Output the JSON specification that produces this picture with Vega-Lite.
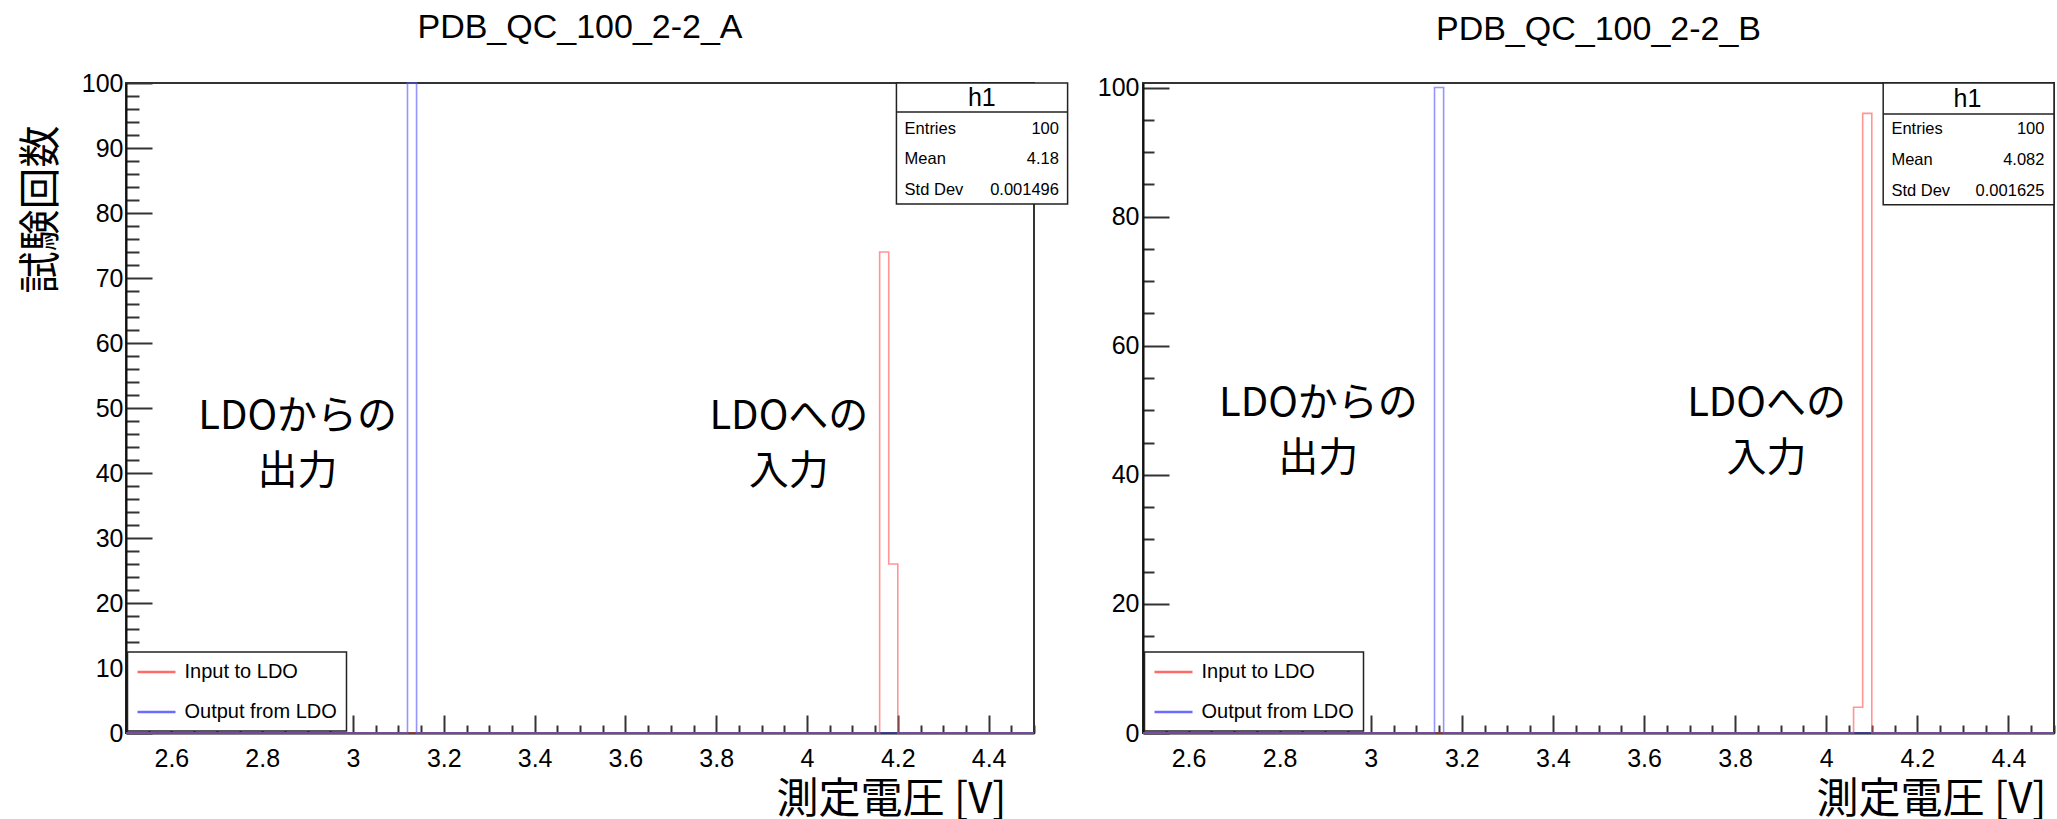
{
  "$schema": "https://vega.github.io/schema/vega-lite/v6.json",
  "padding": {"left": 18, "top": 10, "right": 0, "bottom": 0},
  "background": "white",
  "datasets": {
    "histA": [
      {"s": "Input to LDO", "v": 2.5, "n": 0},
      {"s": "Input to LDO", "v": 4.16, "n": 74},
      {"s": "Input to LDO", "v": 4.18, "n": 26},
      {"s": "Input to LDO", "v": 4.2, "n": 0},
      {"s": "Input to LDO", "v": 4.5, "n": 0},
      {"s": "Output from LDO", "v": 2.5, "n": 0},
      {"s": "Output from LDO", "v": 3.12, "n": 100},
      {"s": "Output from LDO", "v": 3.14, "n": 0},
      {"s": "Output from LDO", "v": 4.5, "n": 0}
    ],
    "histB": [
      {"s": "Input to LDO", "v": 2.5, "n": 0},
      {"s": "Input to LDO", "v": 4.06, "n": 4},
      {"s": "Input to LDO", "v": 4.08, "n": 96},
      {"s": "Input to LDO", "v": 4.1, "n": 0},
      {"s": "Input to LDO", "v": 4.5, "n": 0},
      {"s": "Output from LDO", "v": 2.5, "n": 0},
      {"s": "Output from LDO", "v": 3.14, "n": 100},
      {"s": "Output from LDO", "v": 3.16, "n": 0},
      {"s": "Output from LDO", "v": 4.5, "n": 0}
    ],
    "notes": [
      {"id": "out", "t": "LDOからの\n出力"},
      {"id": "in", "t": "LDOへの\n入力"}
    ],
    "statsA": [{"h": "h1", "k": "Entries\nMean\nStd Dev", "val": "100\n4.18\n0.001496"}],
    "statsB": [{"h": "h1", "k": "Entries\nMean\nStd Dev", "val": "100\n4.082\n0.001625"}]
  },
  "hconcat": [
    {
      "width": 908,
      "height": 650,
      "title": {"text": "PDB_QC_100_2-2_A", "offset": 26},
      "layer": [
        {
          "data": {"name": "histA"},
          "mark": {"type": "line", "interpolate": "step-after", "strokeWidth": 1.6, "opacity": 0.65, "clip": false},
          "encoding": {
            "x": {
              "field": "v", "type": "quantitative",
              "scale": {"domain": [2.5, 4.5], "nice": false, "zero": false},
              "axis": {
                "values": [2.5,2.55,2.6,2.65,2.7,2.75,2.8,2.85,2.9,2.95,3,3.05,3.1,3.15,3.2,3.25,3.3,3.35,3.4,3.45,3.5,3.55,3.6,3.65,3.7,3.75,3.8,3.85,3.9,3.95,4,4.05,4.1,4.15,4.2,4.25,4.3,4.35,4.4,4.45,4.5],
                "tickCount": 500,
                "tickSize": {"expr": "datum.value * 5 % 1 < 0.01 || datum.value * 5 % 1 > 0.99 ? -18 : -8"},
                "labelFontSize": {"expr": "datum.value * 5 % 1 < 0.01 || datum.value * 5 % 1 > 0.99 ? 25 : 0"},
                "labelExpr": "datum.value * 5 % 1 < 0.01 || datum.value * 5 % 1 > 0.99 ? format(datum.value, '~g') : ''",
                "labelPadding": 31,
                "labelOverlap": false,
                "title": "測定電圧 [V]",
                "titleX": 880, "titleY": 66, "titleAlign": "right", "titleBaseline": "middle", "titleAnchor": "end"
              }
            },
            "y": {
              "field": "n", "type": "quantitative",
              "scale": {"domain": [0, 100], "nice": false, "zero": false},
              "axis": {
                "values": [0,2,4,6,8,10,12,14,16,18,20,22,24,26,28,30,32,34,36,38,40,42,44,46,48,50,52,54,56,58,60,62,64,66,68,70,72,74,76,78,80,82,84,86,88,90,92,94,96,98,100],
                "tickCount": 500,
                "tickSize": {"expr": "datum.value % 10 === 0 ? -26 : -13"},
                "labelFontSize": {"expr": "datum.value % 10 === 0 ? 25 : 0"},
                "labelExpr": "datum.value % 10 === 0 ? format(datum.value, 'd') : ''",
                "labelPadding": 29,
                "labelOverlap": false,
                "title": "試験回数",
                "titleX": -85, "titleY": 42, "titleAngle": -90, "titleAlign": "right", "titleBaseline": "middle", "titleAnchor": "end"
              }
            },
            "color": {
              "field": "s", "type": "nominal",
              "scale": {"domain": ["Input to LDO", "Output from LDO"], "range": ["#ff5c5c", "#5c5cff"]},
              "legend": {
                "orient": "none", "legendX": 1.5, "legendY": 569, "title": null,
                "symbolType": "M-2,0H2", "symbolSize": 361, "symbolStrokeWidth": 2.5, "symbolOffset": 9, "symbolOpacity": 0.9,
                "labelFontSize": 20, "labelFont": "Liberation Sans", "labelColor": "black", "labelOffset": 17,
                "padding": 9, "rowPadding": 19, "fillColor": "white", "strokeColor": "#222"
              }
            }
          }
        },
        {
          "data": {"name": "notes"},
          "transform": [{"filter": {"field": "id", "equal": "out"}}],
          "mark": {"type": "text", "lineBreak": "\n", "font": "Noto Sans CJK JP", "fontSize": 40, "lineHeight": 55, "align": "center", "baseline": "middle", "color": "black"},
          "encoding": {"x": {"datum": 2.878}, "y": {"datum": 48.6}, "text": {"field": "t"}}
        },
        {
          "data": {"name": "notes"},
          "transform": [{"filter": {"field": "id", "equal": "in"}}],
          "mark": {"type": "text", "lineBreak": "\n", "font": "Noto Sans CJK JP", "fontSize": 40, "lineHeight": 55, "align": "center", "baseline": "middle", "color": "black"},
          "encoding": {"x": {"datum": 3.96}, "y": {"datum": 48.6}, "text": {"field": "t"}}
        },
        {
          "data": {"name": "statsA"},
          "mark": {"type": "rect", "fill": "white", "stroke": "#222", "strokeWidth": 1.5, "clip": false},
          "encoding": {"x": {"datum": 4.197}, "x2": {"datum": 4.574}, "y": {"datum": 100}, "y2": {"datum": 81.38}}
        },
        {
          "data": {"name": "statsA"},
          "mark": {"type": "rule", "stroke": "#222", "strokeWidth": 1.5, "clip": false},
          "encoding": {"x": {"datum": 4.197}, "x2": {"datum": 4.574}, "y": {"datum": 95.54}}
        },
        {
          "data": {"name": "statsA"},
          "mark": {"type": "text", "font": "Liberation Sans", "fontSize": 25, "align": "center", "baseline": "middle", "color": "black"},
          "encoding": {"x": {"datum": 4.385}, "y": {"datum": 97.7}, "text": {"field": "h"}}
        },
        {
          "data": {"name": "statsA"},
          "mark": {"type": "text", "lineBreak": "\n", "font": "Liberation Sans", "fontSize": 16.5, "lineHeight": 30.7, "align": "left", "baseline": "middle", "color": "black"},
          "encoding": {"x": {"datum": 4.215}, "y": {"datum": 93.0}, "text": {"field": "k"}}
        },
        {
          "data": {"name": "statsA"},
          "mark": {"type": "text", "lineBreak": "\n", "font": "Liberation Sans", "fontSize": 16.5, "lineHeight": 30.7, "align": "right", "baseline": "middle", "color": "black"},
          "encoding": {"x": {"datum": 4.555}, "y": {"datum": 93.0}, "text": {"field": "val"}}
        }
      ]
    },
    {
      "width": 911,
      "height": 650,
      "title": {"text": "PDB_QC_100_2-2_B", "offset": 29},
      "layer": [
        {
          "data": {"name": "histB"},
          "mark": {"type": "line", "interpolate": "step-after", "strokeWidth": 1.6, "opacity": 0.65, "clip": false},
          "encoding": {
            "x": {
              "field": "v", "type": "quantitative",
              "scale": {"domain": [2.5, 4.5], "nice": false, "zero": false},
              "axis": {
                "values": [2.5,2.55,2.6,2.65,2.7,2.75,2.8,2.85,2.9,2.95,3,3.05,3.1,3.15,3.2,3.25,3.3,3.35,3.4,3.45,3.5,3.55,3.6,3.65,3.7,3.75,3.8,3.85,3.9,3.95,4,4.05,4.1,4.15,4.2,4.25,4.3,4.35,4.4,4.45,4.5],
                "tickCount": 500,
                "tickSize": {"expr": "datum.value * 5 % 1 < 0.01 || datum.value * 5 % 1 > 0.99 ? -18 : -8"},
                "labelFontSize": {"expr": "datum.value * 5 % 1 < 0.01 || datum.value * 5 % 1 > 0.99 ? 25 : 0"},
                "labelExpr": "datum.value * 5 % 1 < 0.01 || datum.value * 5 % 1 > 0.99 ? format(datum.value, '~g') : ''",
                "labelPadding": 31,
                "labelOverlap": false,
                "title": "測定電圧 [V]",
                "titleX": 903, "titleY": 66, "titleAlign": "right", "titleBaseline": "middle", "titleAnchor": "end"
              }
            },
            "y": {
              "field": "n", "type": "quantitative",
              "scale": {"domain": [0, 100.7], "nice": false, "zero": false},
              "axis": {
                "values": [0,5,10,15,20,25,30,35,40,45,50,55,60,65,70,75,80,85,90,95,100],
                "tickCount": 500,
                "tickSize": {"expr": "datum.value % 20 === 0 ? -26 : -11"},
                "labelFontSize": {"expr": "datum.value % 20 === 0 ? 25 : 0"},
                "labelExpr": "datum.value % 20 === 0 ? format(datum.value, 'd') : ''",
                "labelPadding": 30,
                "labelOverlap": false,
                "title": null
              }
            },
            "color": {
              "field": "s", "type": "nominal",
              "scale": {"domain": ["Input to LDO", "Output from LDO"], "range": ["#ff5c5c", "#5c5cff"]},
              "legend": {
                "orient": "none", "legendX": 1.5, "legendY": 569, "title": null,
                "symbolType": "M-2,0H2", "symbolSize": 361, "symbolStrokeWidth": 2.5, "symbolOffset": 9, "symbolOpacity": 0.9,
                "labelFontSize": 20, "labelFont": "Liberation Sans", "labelColor": "black", "labelOffset": 17,
                "padding": 9, "rowPadding": 19, "fillColor": "white", "strokeColor": "#222"
              }
            }
          }
        },
        {
          "data": {"name": "notes"},
          "transform": [{"filter": {"field": "id", "equal": "out"}}],
          "mark": {"type": "text", "lineBreak": "\n", "font": "Noto Sans CJK JP", "fontSize": 40, "lineHeight": 55, "align": "center", "baseline": "middle", "color": "black"},
          "encoding": {"x": {"datum": 2.885}, "y": {"datum": 50.9}, "text": {"field": "t"}}
        },
        {
          "data": {"name": "notes"},
          "transform": [{"filter": {"field": "id", "equal": "in"}}],
          "mark": {"type": "text", "lineBreak": "\n", "font": "Noto Sans CJK JP", "fontSize": 40, "lineHeight": 55, "align": "center", "baseline": "middle", "color": "black"},
          "encoding": {"x": {"datum": 3.869}, "y": {"datum": 50.9}, "text": {"field": "t"}}
        },
        {
          "data": {"name": "statsB"},
          "mark": {"type": "rect", "fill": "white", "stroke": "#222", "strokeWidth": 1.5, "clip": false},
          "encoding": {"x": {"datum": 4.125}, "x2": {"datum": 4.5}, "y": {"datum": 100.7}, "y2": {"datum": 81.82}}
        },
        {
          "data": {"name": "statsB"},
          "mark": {"type": "rule", "stroke": "#222", "strokeWidth": 1.5, "clip": false},
          "encoding": {"x": {"datum": 4.125}, "x2": {"datum": 4.5}, "y": {"datum": 95.91}}
        },
        {
          "data": {"name": "statsB"},
          "mark": {"type": "text", "font": "Liberation Sans", "fontSize": 25, "align": "center", "baseline": "middle", "color": "black"},
          "encoding": {"x": {"datum": 4.31}, "y": {"datum": 98.2}, "text": {"field": "h"}}
        },
        {
          "data": {"name": "statsB"},
          "mark": {"type": "text", "lineBreak": "\n", "font": "Liberation Sans", "fontSize": 16.5, "lineHeight": 30.7, "align": "left", "baseline": "middle", "color": "black"},
          "encoding": {"x": {"datum": 4.143}, "y": {"datum": 93.5}, "text": {"field": "k"}}
        },
        {
          "data": {"name": "statsB"},
          "mark": {"type": "text", "lineBreak": "\n", "font": "Liberation Sans", "fontSize": 16.5, "lineHeight": 30.7, "align": "right", "baseline": "middle", "color": "black"},
          "encoding": {"x": {"datum": 4.479}, "y": {"datum": 93.5}, "text": {"field": "val"}}
        }
      ]
    }
  ],
  "spacing": 109,
  "bounds": "flush",
  "resolve": {
    "scale": {"x": "independent", "y": "independent", "color": "independent"},
    "axis": {"x": "independent", "y": "independent"},
    "legend": {"color": "independent"}
  },
  "config": {
    "view": {"stroke": "#333", "strokeWidth": 2},
    "legend": {"strokeWidth": 1.5},
    "axis": {
      "labelFont": "Liberation Sans", "labelColor": "black",
      "titleFont": "Noto Sans CJK JP", "titleFontSize": 42, "titleFontWeight": "normal", "titleColor": "black",
      "domainColor": "#111", "domainWidth": 2, "tickColor": "#333", "tickWidth": 2,
      "grid": false, "labelOverlap": false, "labelFlush": false
    },
    "title": {"font": "Liberation Sans", "fontSize": 34, "fontWeight": "normal", "color": "black", "anchor": "middle", "frame": "group", "baseline": "alphabetic"}
  }
}
